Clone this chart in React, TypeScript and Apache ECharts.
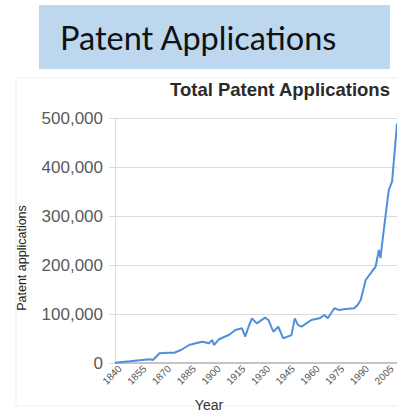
import React, { useEffect, useRef } from "react";
import * as echarts from "echarts";

const years = [1837, 1846, 1858, 1860, 1864, 1869, 1873, 1877, 1882, 1886, 1890, 1894, 1896, 1897, 1900, 1906, 1910, 1914, 1916, 1918, 1920, 1923, 1928, 1930, 1933, 1936, 1939, 1944, 1946, 1948, 1950, 1953, 1956, 1961, 1964, 1966, 1970, 1973, 1977, 1982, 1984, 1986, 1989, 1992, 1995, 1997, 1998, 1999, 2001, 2003, 2005, 2007, 2008];
const applications = [600, 3500, 7600, 6100, 19800, 21000, 21000, 26500, 36700, 40200, 43500, 40200, 47000, 36700, 48400, 57100, 67400, 70800, 54000, 74000, 91000, 81000, 92500, 87800, 63900, 74000, 50400, 57000, 91000, 77600, 74000, 81000, 87800, 91200, 98000, 91200, 111600, 108000, 110000, 111600, 118000, 128600, 169400, 183000, 196500, 230600, 214000, 244000, 298600, 353000, 370000, 448000, 489000];
const yearTicks = [1840, 1855, 1870, 1885, 1900, 1915, 1930, 1945, 1960, 1975, 1990, 2005];

const headerText = "Patent Applications";
const chartTitle = "Total Patent Applications";
const xName = "Year";
const yName = "Patent applications";

export default function App() {
  const ref = useRef<HTMLDivElement>(null);
  useEffect(() => {
    if (!ref.current) return;
    const chart = echarts.init(ref.current, null, { renderer: "svg" });
    chart.setOption({
      animation: false,
      backgroundColor: "#ffffff",
      title: {
        text: chartTitle,
        left: 165,
        top: 75,
        textStyle: { fontSize: 18.5, fontWeight: "bold", color: "#2a2a2a", fontFamily: "Liberation Sans" },
      },
      grid: { left: 115, right: 0, top: 118, bottom: 51, containLabel: false, outerBoundsMode: "none" },
      xAxis: {
        type: "value",
        min: 1837,
        max: 2008,
        axisLine: { show: true, lineStyle: { color: "#c4c4c4", width: 2 } },
        axisTick: { show: false },
        splitLine: { show: false },
        axisLabel: {
          customValues: yearTicks,
          rotate: 45,
          fontSize: 10,
          margin: 4,
          color: "#555",
          fontFamily: "Liberation Sans",
          formatter: (v: number) => String(v),
        },
      },
      yAxis: {
        type: "value",
        min: 0,
        max: 500000,
        interval: 100000,
        axisLine: { show: true, lineStyle: { color: "#dcdcdc" } },
        axisTick: { show: true, length: 6, lineStyle: { color: "#dcdcdc" } },
        splitLine: { show: true, lineStyle: { color: "#dcdcdc" } },
        axisLabel: {
          fontSize: 17,
          margin: 12,
          color: "#5a5a5a",
          fontFamily: "Liberation Sans",
          formatter: (v: number) => v.toLocaleString("en-US"),
        },
      },
      series: [
        {
          type: "line",
          data: years.map((y, i) => [y, applications[i]]),
          showSymbol: false,
          lineStyle: { color: "#4f8fdc", width: 2 },
          clip: true,
        },
      ],
      graphic: [
        {
          type: "rect",
          shape: { x: 16, y: 78, width: 400, height: 328 },
          style: { fill: "none", stroke: "#efefef", lineWidth: 1 },
          silent: true,
        },
        {
          type: "rect",
          shape: { x: 39, y: 5, width: 351, height: 64 },
          style: { fill: "#BDD7EE" },
        },
        {
          type: "text",
          x: 60,
          y: 37,
          style: { text: headerText, fontSize: 32.5, fontFamily: "Lato", fill: "#111", textAlign: "left", textVerticalAlign: "middle" },
        },
        {
          type: "text",
          x: 22,
          y: 258,
          rotation: Math.PI / 2,
          style: { text: yName, fontSize: 12.5, fontFamily: "Liberation Sans", fill: "#222", textAlign: "center", textVerticalAlign: "middle" },
        },
        {
          type: "text",
          x: 209,
          y: 405,
          style: { text: xName, fontSize: 14, fontFamily: "Liberation Sans", fill: "#333", textAlign: "center", textVerticalAlign: "middle" },
        },
      ],
    });
    return () => chart.dispose();
  }, []);
  return <div ref={ref} style={{ position: "absolute", left: 0, top: 0, width: 397, height: 414 }} />;
}
